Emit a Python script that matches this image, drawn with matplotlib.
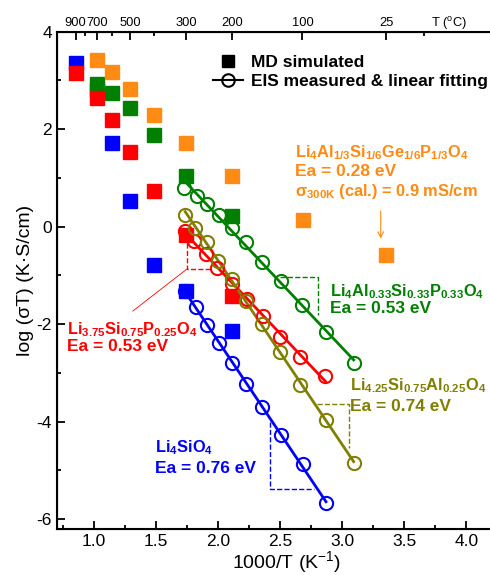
import matplotlib
matplotlib.use('Agg')
import matplotlib.pyplot as plt
import numpy as np
from matplotlib.lines import Line2D

plt.rcParams['font.family'] = ['Liberation Sans', 'DejaVu Sans']
plt.rcParams['mathtext.fontset'] = 'custom'
plt.rcParams['mathtext.rm'] = 'Liberation Sans'
plt.rcParams['mathtext.bf'] = 'Liberation Sans:bold'
plt.rcParams['mathtext.it'] = 'Liberation Sans:italic'
plt.rcParams['axes.unicode_minus'] = False

BLUE = '#0000ff'
RED = '#ff0000'
GREEN = '#008000'
OLIVE = '#808000'
ORANGE = '#ff8a14'

# MD simulated points (1000/T, log(sigma T))
md_blue_x = [0.852, 1.028, 1.145, 1.294, 1.486, 1.745, 2.113]
md_blue_y = [3.35, 2.80, 1.72, 0.53, -0.79, -1.31, -2.13]
md_red_x = [0.852, 1.028, 1.145, 1.294, 1.486, 1.745, 2.113]
md_red_y = [3.16, 2.63, 2.19, 1.53, 0.74, -0.17, -1.43]
md_green_x = [1.028, 1.145, 1.294, 1.486, 1.745, 2.113]
md_green_y = [2.93, 2.74, 2.43, 1.88, 1.05, 0.21]
md_orange_x = [1.028, 1.145, 1.294, 1.486, 1.745, 2.113, 2.680, 3.354]
md_orange_y = [3.42, 3.18, 2.82, 2.29, 1.71, 1.05, 0.14, -0.57]

# EIS measured points
eis_green_x = [1.728, 1.829, 1.910, 2.011, 2.111, 2.227, 2.353, 2.506, 2.676, 2.870, 3.092]
eis_green_y = [0.80, 0.63, 0.46, 0.24, -0.03, -0.31, -0.72, -1.12, -1.61, -2.16, -2.80]
eis_olive_x = [1.735, 1.815, 1.910, 2.003, 2.111, 2.224, 2.356, 2.501, 2.662, 2.872, 3.092]
eis_olive_y = [0.25, -0.02, -0.32, -0.70, -1.07, -1.53, -2.00, -2.56, -3.25, -3.96, -4.85]
eis_red_x = [1.735, 1.802, 1.902, 1.993, 2.111, 2.230, 2.360, 2.501, 2.662, 2.864]
eis_red_y = [-0.09, -0.29, -0.56, -0.85, -1.18, -1.49, -1.83, -2.26, -2.67, -3.06]
eis_blue_x = [1.735, 1.820, 1.910, 2.011, 2.111, 2.224, 2.355, 2.506, 2.684, 2.869]
eis_blue_y = [-1.32, -1.65, -2.01, -2.38, -2.79, -3.23, -3.69, -4.27, -4.87, -5.67]

# top axis temperatures (degC)
top_major_c = [900, 700, 500, 300, 200, 100, 25]
top_minor_c = [800, 600, 400, 0]

fig = plt.figure(figsize=(4.9, 5.75), dpi=100)
ax = fig.add_axes([56.7 / 490, 1 - 529 / 575, 434.5 / 490, 497.3 / 575])

ms_sq = 9.5
ms_circ = 9.5

for xs, ys, c in [(md_blue_x, md_blue_y, BLUE), (md_green_x, md_green_y, GREEN),
                  (md_red_x, md_red_y, RED), (md_orange_x, md_orange_y, ORANGE)]:
    ax.plot(xs, ys, 's', color=c, ms=ms_sq, mec=c, zorder=3)

for xs, ys, c in [(eis_blue_x, eis_blue_y, BLUE), (eis_red_x, eis_red_y, RED),
                  (eis_olive_x, eis_olive_y, OLIVE), (eis_green_x, eis_green_y, GREEN)]:
    xs = np.array(xs)
    k, b = np.polyfit(xs, ys, 1)
    xf = np.array([xs.min(), xs.max()])
    ax.plot(xf, k * xf + b, '-', color=c, lw=2.0, zorder=4)
    ax.plot(xs, ys, 'o', ms=ms_circ, mfc='none', mec=c, mew=1.5, zorder=5)

# slope guide triangles (dashed)
ax.plot([1.748, 1.748, 1.955], [-0.34, -0.87, -0.87], '--', color=RED, lw=1.0, zorder=2)
ax.plot([1.748, 1.313], [-0.87, -1.73], '-', color=RED, lw=0.6, zorder=2)
ax.plot([2.501, 2.801, 2.801], [-1.04, -1.04, -1.81], '--', color=GREEN, lw=1.0, zorder=2)
ax.plot([2.797, 3.052, 3.052], [-3.64, -3.64, -4.54], '--', color=OLIVE, lw=1.0, zorder=2)
ax.plot([2.415, 2.415, 2.769], [-4.0, -5.38, -5.38], '--', color=BLUE, lw=1.0, zorder=2)

ax.annotate('', xy=(3.31, -0.30), xytext=(3.31, 0.38),
            arrowprops=dict(arrowstyle='->', color=ORANGE, lw=0.8))

fs = 12.5
bold = dict(fontsize=fs, fontweight='bold', va='center', ha='left')
formula = dict(fontsize=11.8, fontweight='bold', va='center', ha='left')
ax.text(2.62, 1.51, r'Li$_\mathbf{4}$Al$_\mathbf{1/3}$Si$_\mathbf{1/6}$Ge$_\mathbf{1/6}$P$_\mathbf{1/3}$O$_\mathbf{4}$',
        color=ORANGE, **formula)
ax.text(2.62, 1.13, 'Ea = 0.28 eV', color=ORANGE, **bold)
ax.text(2.62, 0.72, r'σ$_\mathbf{300K}$ (cal.) = 0.9 mS/cm', color=ORANGE, **formula)
ax.text(2.904, -1.33, r'Li$_\mathbf{4}$Al$_\mathbf{0.33}$Si$_\mathbf{0.33}$P$_\mathbf{0.33}$O$_\mathbf{4}$',
        color=GREEN, **formula)
ax.text(2.904, -1.67, 'Ea = 0.53 eV', color=GREEN, **bold)
ax.text(3.06, -3.25, r'Li$_\mathbf{4.25}$Si$_\mathbf{0.75}$Al$_\mathbf{0.25}$O$_\mathbf{4}$',
        color=OLIVE, **formula)
ax.text(3.06, -3.68, 'Ea = 0.74 eV', color=OLIVE, **bold)
ax.text(0.78, -2.12, r'Li$_\mathbf{3.75}$Si$_\mathbf{0.75}$P$_\mathbf{0.25}$O$_\mathbf{4}$',
        color=RED, **formula)
ax.text(0.78, -2.46, 'Ea = 0.53 eV', color=RED, **bold)
ax.text(1.493, -4.54, r'Li$_\mathbf{4}$SiO$_\mathbf{4}$', color=BLUE, **formula)
ax.text(1.493, -4.95, 'Ea = 0.76 eV', color=BLUE, **bold)

handles = [Line2D([], [], ls='none', marker='s', color='k', ms=9),
           Line2D([], [], ls='-', marker='o', color='k', mfc='none', ms=9, mew=1.5, lw=1.5)]
ax.legend(handles, ['MD simulated', 'EIS measured & linear fitting'],
          loc='upper left', bbox_to_anchor=(0.36, 0.953), frameon=False,
          prop=dict(size=fs, weight='bold'), handlelength=1.7, handletextpad=0.5,
          labelspacing=0.2, borderpad=0, borderaxespad=0)

ax.set_xlim(0.7, 4.2)
ax.set_ylim(-6.2, 4)
ax.set_xticks(np.arange(1.0, 4.01, 0.5))
ax.set_xticks(np.arange(0.75, 4.2, 0.25), minor=True)
ax.set_yticks(np.arange(-6, 4.1, 2))
ax.set_yticks(np.arange(-6, 4.1, 1), minor=True)
ax.tick_params(which='both', direction='in', top=False, right=False, width=1.3, labelsize=12.5)
ax.tick_params(which='major', length=6)
ax.tick_params(which='minor', length=3)
for s in ax.spines.values():
    s.set_linewidth(1.5)
ax.set_xlabel('1000/T (K$^{-1}$)', fontsize=14, labelpad=1)
ax.xaxis.set_label_coords(0.528, -0.041)
ax.set_ylabel('log (σT) (K·S/cm)', fontsize=14, labelpad=2)

top = ax.twiny()
top.set_xlim(ax.get_xlim())
top.set_xticks([1000 / (t + 273.15) for t in top_major_c])
top.set_xticklabels([str(t) for t in top_major_c])
top.set_xticks([1000 / (t + 273.15) for t in top_minor_c], minor=True)
top.tick_params(which='both', direction='in', width=1.3, labelsize=9.3, pad=2)
top.tick_params(which='major', length=6)
top.tick_params(which='minor', length=3)
top.text(3.86, 1.0, 'T ($^\\mathrm{o}$C)', transform=top.get_xaxis_transform(),
         fontsize=9.3, ha='center', va='bottom')

fig.savefig('out.png', dpi=100)
